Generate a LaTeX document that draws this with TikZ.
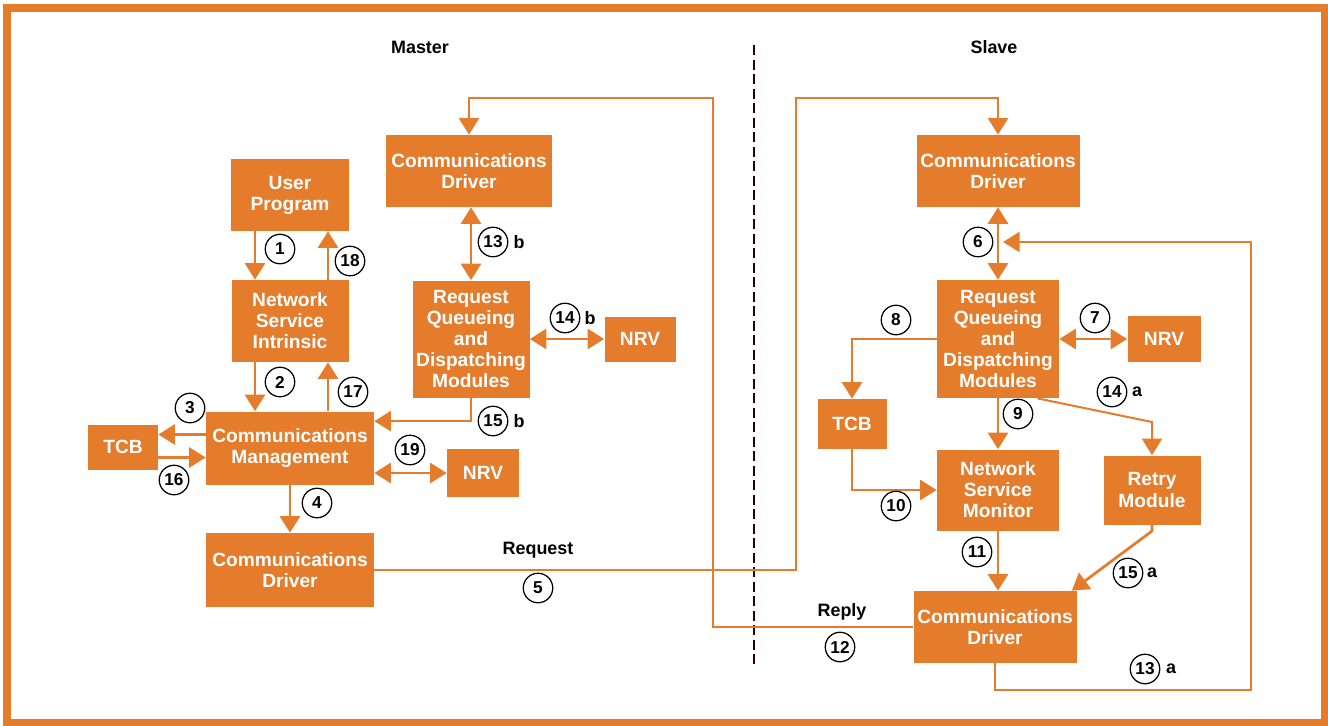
\documentclass[tikz,border=0pt]{standalone}
\usepackage{fontspec}
\setmainfont{Liberation Sans}
\usetikzlibrary{arrows.meta,positioning}
\definecolor{hporange}{RGB}{228,124,44}

\begin{document}
\begin{tikzpicture}[
  x=0.2mm, y=-0.2mm,
  >={Triangle[width=4mm,length=3.3mm]},
  block/.style={rectangle, fill=hporange, text=white, align=center, inner sep=0pt,
    font=\fontsize{10.9}{12}\selectfont\bfseries},
  num/.style={circle, draw=black, fill=white, line width=0.25mm, minimum size=5.9mm,
    inner sep=0pt, font=\fontsize{9.8}{10}\selectfont\bfseries},
  lbl/.style={font=\fontsize{10.2}{12}\selectfont\bfseries, inner sep=0pt},
  link/.style={draw=hporange, line width=0.55mm},
  wire/.style={draw=hporange, line width=0.4mm}]

\useasboundingbox (0,0) rectangle (1328,725);
\draw[hporange, line width=1.6mm] (7,8) rectangle (1325,723);

% headings and divider
\node[lbl] (master) at (420,47) {Master};
\node[lbl] (slave) at (994,47) {Slave};
\draw[black!70!red!60!black, line width=0.25mm, dash pattern=on 2mm off 0.9mm] (754,45) -- (754,665);

% master side
\node[block, minimum width=23.6mm, minimum height=14.4mm] (uprog) at (290,195) {User\\Program};
\node[block, minimum width=23.4mm, minimum height=16.4mm] (nsi) at (290,321) {Network\\Service\\Intrinsic};
\node[block, minimum width=33.6mm, minimum height=14.6mm] (cm) at (290,448) {Communications\\Management};
\node[block, minimum width=14mm, minimum height=9mm] (tcbm) at (123,447) {TCB};
\node[block, minimum width=33.6mm, minimum height=14.8mm] (cdm2) at (290,570) {Communications\\Driver};
\node[block, minimum width=33.2mm, minimum height=14.4mm] (cdm1) at (469,171) {Communications\\Driver};
\node[block, minimum width=23.4mm, minimum height=23.4mm] (rqdm) at (471,339) {Request\\Queueing\\and\\Dispatching\\Modules};
\node[block, minimum width=14.2mm, minimum height=9mm] (nrvm1) at (640,339) {NRV};
\node[block, minimum width=14.4mm, minimum height=9.6mm] (nrvm2) at (483,473) {NRV};

% slave side
\node[block, minimum width=32.6mm, minimum height=14.4mm] (cds1) at (998,171) {Communications\\Driver};
\node[block, minimum width=24.4mm, minimum height=23.6mm] (rqds) at (998,339) {Request\\Queueing\\and\\Dispatching\\Modules};
\node[block, minimum width=14.6mm, minimum height=9.2mm] (nrvs) at (1164,339) {NRV};
\node[block, minimum width=13.8mm, minimum height=10mm] (tcbs) at (852,424) {TCB};
\node[block, minimum width=24.4mm, minimum height=16.2mm] (nsm) at (998,490) {Network\\Service\\Monitor};
\node[block, minimum width=19.4mm, minimum height=13.8mm] (retry) at (1152,490) {Retry\\Module};
\node[block, minimum width=32.6mm, minimum height=14.4mm] (cds2) at (995,627) {Communications\\Driver};

% master arrows
\draw[link, ->] ([xshift=-7mm]uprog.south) -- ([xshift=-7mm]nsi.north);
\draw[link, <-] ([xshift=7.6mm]uprog.south) -- ([xshift=7.6mm]nsi.north);
\draw[link, ->] ([xshift=-7mm]nsi.south) -- ([xshift=-7mm]cm.north);
\draw[link, <-] ([xshift=7.6mm]nsi.south) -- ([xshift=7.6mm]cm.north);
\coordinate (t3) at ([yshift=2.5mm]tcbm.east);
\coordinate (t16) at ([yshift=-2.1mm]tcbm.east);
\draw[link, <-] (t3) -- (t3 -| cm.west);
\draw[link, ->] (t16) -- (t16 -| cm.west);
\draw[link, ->] (cm.south) -- (cdm2.north);
\draw[link, <->] (cm.east |- nrvm2.west) -- (nrvm2.west);
\draw[link, <->] (rqdm.north |- cdm1.south) -- (rqdm.north);
\draw[link, <->] (rqdm.east) -- (nrvm1.west);
\draw[wire, ->] (rqdm.south) |- ([yshift=-2mm]cm.north east);

% request and reply
\coordinate (reqturn) at (796,98);
\coordinate (repturn) at (713,98);
\draw[wire, ->] (cdm2.east) -| (reqturn) -| (cds1.north);
\draw[wire, ->] (cds2.west) -| (repturn) -| (cdm1.north);

% slave arrows
\draw[link, <->] (cds1.south) -- (rqds.north);
\draw[link, <->] (rqds.east) -- (nrvs.west);
\draw[wire, ->] (rqds.west) -| (tcbs.north);
\draw[link, ->] (rqds.south) -- (nsm.north);
\draw[wire, ->] (tcbs.south) |- (nsm.west);
\draw[link, ->] (nsm.south) -- (nsm.south |- cds2.north);
\coordinate (r14) at (1152,422);
\draw[wire, ->] ([xshift=-4.4mm]rqds.south east) -- (r14) -- (retry.north);
\coordinate (r15) at (1152,531);
\draw[link, ->] (retry.south) -- (r15) -- ([xshift=-1mm]cds2.north east);
\coordinate (c13) at (1251,690);
\coordinate (t13) at (1003,242);
\draw[wire, ->] (cds2.south) |- (c13) |- (t13);

% step numbers
\node[num] (n1) at (280,249) {1};
\node[num] (n18) at (350,261) {18};
\node[num] (n2) at (280,382) {2};
\node[num] (n17) at (353,392) {17};
\node[num] (n3) at (190,408) {3};
\node[num] (n16) at (174,480) {16};
\node[num] (n4) at (317,503) {4};
\node[num] (n19) at (410,450) {19};
\node[num] (n15b) at (493,421) {15};
\node[lbl] (l15b) at (519,421) {b};
\node[num] (n13b) at (493,242) {13};
\node[lbl] (l13b) at (519,242) {b};
\node[num] (n14b) at (565,318) {14};
\node[lbl] (l14b) at (590,318) {b};
\node[lbl] (req) at (538,550) {Request};
\node[num] (n5) at (538,588) {5};
\node[num] (n6) at (978,242) {6};
\node[num] (n7) at (1095,318) {7};
\node[num] (n8) at (896,320) {8};
\node[num] (n9) at (1018,414) {9};
\node[num] (n10) at (896,506) {10};
\node[num] (n11) at (977,552) {11};
\node[lbl] (rep) at (842,612) {Reply};
\node[num] (n12) at (840,647) {12};
\node[num] (n13a) at (1145,669) {13};
\node[lbl] (l13a) at (1171,669) {a};
\node[num] (n14a) at (1112,392) {14};
\node[lbl] (l14a) at (1137,392) {a};
\node[num] (n15a) at (1128,573) {15};
\node[lbl] (l15a) at (1152,573) {a};

\end{tikzpicture}
\end{document}
